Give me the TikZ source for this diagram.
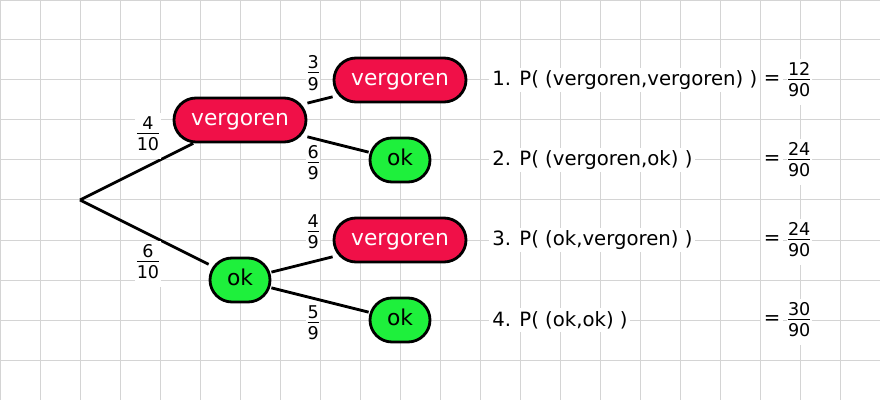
\documentclass[tikz,border=0pt]{standalone}
\usepackage{fontspec}
\setmainfont{DejaVu Sans}
\usepackage{tikz}
\usetikzlibrary{positioning}
\definecolor{rood}{RGB}{240,16,72}
\definecolor{groen}{RGB}{30,240,60}
\definecolor{rooster}{RGB}{212,212,212}
\newcommand{\breuk}[2]{{\setlength{\arrayrulewidth}{0.7pt}%
  \begin{tabular}{@{}c@{}}#1\\[-2pt]\hline\rule{0pt}{12pt}#2\end{tabular}}}
\tikzset{
  gridline/.style={rooster,line width=0.7pt},
  branch/.style={line width=2pt},
  bol/.style={draw=black,line width=2pt,rounded corners=0.55cm,minimum height=1.1cm,
    inner sep=0pt,text height=1.5ex,text depth=0pt,font=\fontsize{15.5}{18}\selectfont},
  vergorenbox/.style={bol,fill=rood,text=white,minimum width=3.3cm},
  okbox/.style={bol,fill=groen,text=black,minimum width=1.5cm},
  kans/.style={fill=white,inner sep=1pt,font=\fontsize{12.5}{15}\selectfont},
  rij/.style={fill=white,inner sep=2pt,anchor=west,font=\fontsize{14}{17}\selectfont}
}
\begin{document}
\begin{tikzpicture}
    \useasboundingbox (0,0) rectangle (22,10);
    \fill[white] (0,0) rectangle (22,10);
    \draw[gridline] (0,0) grid (22,10);
    % boom
    \coordinate (root) at (2,5);
    \node[vergorenbox] (v) at (6,7) {vergoren};
    \node[okbox] (o) at (6,3) {ok};
    \node[vergorenbox] (vv) at (10,8) {vergoren};
    \node[okbox] (vo) at (10,6) {ok};
    \node[vergorenbox] (ov) at (10,4) {vergoren};
    \node[okbox] (oo) at (10,2) {ok};
    \draw[branch] (root) -- (v);
    \draw[branch] (root) -- (o);
    \draw[branch] (v) -- (vv);
    \draw[branch] (v) -- (vo);
    \draw[branch] (o) -- (ov);
    \draw[branch] (o) -- (oo);
    % kansen langs de takken
    \node[kans] (k1) at (3.7,6.6) {\breuk{4}{10}};
    \node[kans] (k2) at (3.7,3.4) {\breuk{6}{10}};
    \node[kans] (k3) at (7.83,8.12) {\breuk{3}{9}};
    \node[kans] (k4) at (7.83,5.88) {\breuk{6}{9}};
    \node[kans] (k5) at (7.83,4.15) {\breuk{4}{9}};
    \node[kans] (k6) at (7.83,1.88) {\breuk{5}{9}};
    % uitkomsten
    \node[rij] (r1) at (12.23,8) {1. P( (vergoren,vergoren) )};
    \node[rij] (r2) at (12.23,6) {2. P( (vergoren,ok) )};
    \node[rij] (r3) at (12.23,4) {3. P( (ok,vergoren) )};
    \node[rij] (r4) at (12.23,2) {4. P( (ok,ok) )};
    \node[rij,anchor=center] (e1) at (19.3,8) {=};
    \node[rij,anchor=center] (e2) at (19.3,6) {=};
    \node[rij,anchor=center] (e3) at (19.3,4) {=};
    \node[rij,anchor=center] (e4) at (19.3,2) {=};
    \node[kans] (f1) at (19.98,7.95) {\breuk{12}{90}};
    \node[kans] (f2) at (19.98,5.95) {\breuk{24}{90}};
    \node[kans] (f3) at (19.98,3.95) {\breuk{24}{90}};
    \node[kans] (f4) at (19.98,1.95) {\breuk{30}{90}};
\end{tikzpicture}
\end{document}
